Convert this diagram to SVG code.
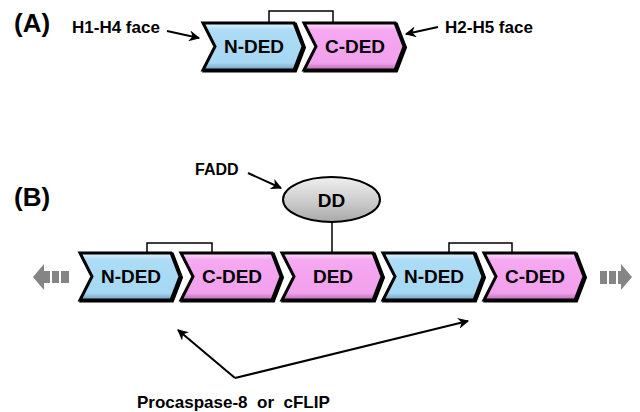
<svg xmlns="http://www.w3.org/2000/svg" width="640" height="412" viewBox="0 0 640 412">
<style>
text{font-family:"Liberation Sans",Arial,sans-serif;font-weight:bold;fill:#000}
.lbl{font-size:19px;text-anchor:middle}
.side{font-size:17px}
.panel{font-size:26px}
.chev{stroke:#000;stroke-width:3;stroke-linejoin:miter}
.shadow{fill:#000;stroke:#000;stroke-width:3;stroke-linejoin:miter}
.blue{fill:url(#gBlue)}
.pink{fill:url(#gPink)}
.br{fill:none;stroke:#000;stroke-width:1.5}
.arr{fill:none;stroke:#000;stroke-width:2;marker-end:url(#ah)}
.gray{fill:#858585}
</style>
<defs>
<linearGradient id="gBlue" x1="0" y1="0" x2="0" y2="1">
<stop offset="0" stop-color="#e2f5fd"/>
<stop offset="0.15" stop-color="#acdcf6"/>
<stop offset="0.85" stop-color="#a6d8f3"/>
<stop offset="1" stop-color="#6f9fbf"/>
</linearGradient>
<linearGradient id="gPink" x1="0" y1="0" x2="0" y2="1">
<stop offset="0" stop-color="#fde0fb"/>
<stop offset="0.15" stop-color="#f6a8f1"/>
<stop offset="0.85" stop-color="#f2a0ed"/>
<stop offset="1" stop-color="#b86cb3"/>
</linearGradient>
<linearGradient id="gGray" x1="0" y1="0" x2="0" y2="1">
<stop offset="0" stop-color="#f0f0f0"/>
<stop offset="0.6" stop-color="#c8c8c8"/>
<stop offset="1" stop-color="#a8a8a8"/>
</linearGradient>
<marker id="ah" viewBox="0 0 10 10" refX="9" refY="5" markerWidth="5.5" markerHeight="5.5" orient="auto" markerUnits="strokeWidth">
<path d="M0,0 L10,5 L0,10 L3,5 Z" fill="#000"/>
</marker>
</defs>

<text class="panel" x="14" y="32">(A)</text>
<text class="panel" x="14" y="206">(B)</text>

<g id="labelA1"><text class="side" x="72" y="33">H1-H4 face</text></g>
<g id="labelA2"><text class="side" x="445" y="33">H2-H5 face</text></g>
<g id="labelFADD"><text style="font-size:16px" x="195" y="175">FADD</text></g>
<g id="labelBottom"><text class="side" x="137" y="408" style="white-space:pre" xml:space="preserve">Procaspase-8  or  cFLIP</text></g>

<g id="connectors">
<polyline class="br" points="269,23 269,11 333,11 333,23"/>
<polyline class="br" points="147,253 147,243 212,243 212,253"/>
<polyline class="br" points="449,253 449,243 512,243 512,253"/>
<line x1="332" y1="222" x2="332" y2="253" stroke="#000" stroke-width="1.5"/>
<line class="arr" x1="167" y1="31" x2="199" y2="38"/>
<line class="arr" x1="438" y1="27" x2="406" y2="34"/>
<line class="arr" x1="248" y1="173" x2="281" y2="188"/>
<line class="arr" x1="235" y1="378" x2="178" y2="330"/>
<line class="arr" x1="235" y1="378" x2="468" y2="321"/>
</g>

<g id="A-NDED">
<polygon class="shadow" points="204.5,24 295.5,24 304.5,47.5 295.5,71 204.5,71 216.5,47.5"/>
<polygon class="chev blue" points="203,23 294,23 303,46.5 294,70 203,70 215,46.5"/>
<text class="lbl" x="254" y="53">N-DED</text>
</g>
<g id="A-CDED">
<polygon class="shadow" points="305.5,24 396.5,24 405.5,47.5 396.5,71 305.5,71 317.5,47.5"/>
<polygon class="chev pink" points="304,23 395,23 404,46.5 395,70 304,70 316,46.5"/>
<text class="lbl" x="355" y="53">C-DED</text>
</g>

<g id="DD">
<ellipse cx="331.5" cy="199.5" rx="48.5" ry="22.5" fill="url(#gGray)" stroke="#000" stroke-width="2"/>
<text class="lbl" x="331.5" y="207">DD</text>
</g>

<g id="B-NDED1">
<polygon class="shadow" points="81.5,254 172.5,254 181.5,277.5 172.5,301 81.5,301 93.5,277.5"/>
<polygon class="chev blue" points="80,253 171,253 180,276.5 171,300 80,300 92,276.5"/>
<text class="lbl" x="131" y="283">N-DED</text>
</g>
<g id="B-CDED1">
<polygon class="shadow" points="182.5,254 273.5,254 282.5,277.5 273.5,301 182.5,301 194.5,277.5"/>
<polygon class="chev pink" points="181,253 272,253 281,276.5 272,300 181,300 193,276.5"/>
<text class="lbl" x="232" y="283">C-DED</text>
</g>
<g id="B-DED">
<polygon class="shadow" points="283.5,254 374.5,254 383.5,277.5 374.5,301 283.5,301 295.5,277.5"/>
<polygon class="chev pink" points="282,253 373,253 382,276.5 373,300 282,300 294,276.5"/>
<text class="lbl" x="333" y="283">DED</text>
</g>
<g id="B-NDED2">
<polygon class="shadow" points="384.5,254 475.5,254 484.5,277.5 475.5,301 384.5,301 396.5,277.5"/>
<polygon class="chev blue" points="383,253 474,253 483,276.5 474,300 383,300 395,276.5"/>
<text class="lbl" x="434" y="283">N-DED</text>
</g>
<g id="B-CDED2">
<polygon class="shadow" points="485.5,254 576.5,254 585.5,277.5 576.5,301 485.5,301 497.5,277.5"/>
<polygon class="chev pink" points="484,253 575,253 584,276.5 575,300 484,300 496,276.5"/>
<text class="lbl" x="535" y="283">C-DED</text>
</g>

<g id="leftArrow" class="gray">
<polygon points="33,277 44,264 44,271 50,271 50,283 44,283 44,290"/>
<rect x="52" y="271" width="7" height="12"/>
<rect x="61" y="271" width="8" height="12"/>
</g>
<g id="rightArrow" class="gray">
<rect x="600" y="271" width="7" height="13"/>
<rect x="609" y="271" width="7" height="13"/>
<polygon points="632,277 621,264 621,271 618,271 618,284 621,284 621,290"/>
</g>
</svg>
